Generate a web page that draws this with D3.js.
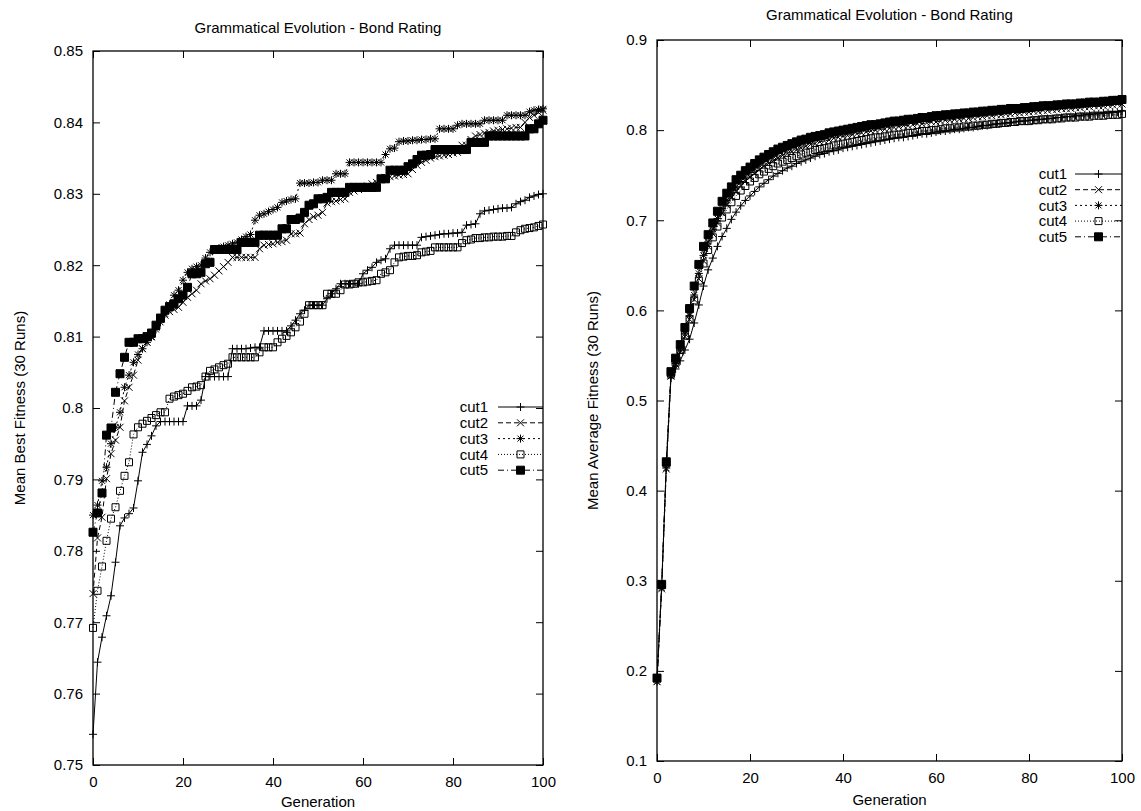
<!DOCTYPE html>
<html>
<head>
<meta charset="UTF-8">
<title>Grammatical Evolution - Bond Rating</title>
<script src="https://cdn.jsdelivr.net/npm/d3@7"></script>
<style>
    body { margin: 0; background: #fff; }
    text { font-family: "Liberation Sans", Arial, sans-serif; font-size: 15px; fill: #000; }
    .frame { fill: none; stroke: #000; stroke-width: 1.3; }
    .tick line { stroke: #000; stroke-width: 1; }
    .domain { display: none; }
    .series { fill: none; stroke: #000; stroke-width: 1; }
</style>
</head>
<body>
<script>

    var seriesNames = ["cut1", "cut2", "cut3", "cut4", "cut5"];
    var generations = d3.range(0, 101);
    var xTicks = [0, 20, 40, 60, 80, 100];
    var bestTicks = [0.75, 0.76, 0.77, 0.78, 0.79, 0.8, 0.81, 0.82, 0.83, 0.84, 0.85];
    var avgTicks = [0.1, 0.2, 0.3, 0.4, 0.5, 0.6, 0.7, 0.8, 0.9];

    // mean best fitness, one value per generation 0..100
    var bestCut1 = [.7543,.7644,.7679,.7709,.7737,.7784,.7835,.7846,.7852,.7860,
        .7898,.7938,.7949,.7961,.7975,.7981,.7981,.7981,.7981,.7981,
        .7981,.8003,.8003,.8003,.8011,.8044,.8044,.8044,.8044,.8044,
        .8044,.8083,.8083,.8083,.8083,.8084,.8085,.8085,.8108,.8108,
        .8108,.8108,.8108,.8108,.8115,.8123,.8132,.8137,.8144,.8144,
        .8144,.8144,.8153,.8160,.8167,.8174,.8174,.8174,.8174,.8174,
        .8188,.8193,.8197,.8204,.8207,.8209,.8223,.8228,.8228,.8228,
        .8228,.8228,.8228,.8239,.8240,.8241,.8242,.8243,.8244,.8244,
        .8245,.8245,.8246,.8256,.8257,.8258,.8272,.8276,.8277,.8278,
        .8279,.8280,.8280,.8281,.8286,.8289,.8291,.8295,.8297,.8299,
        .8300];
    var bestCut2 = [.7740,.7818,.7847,.7901,.7936,.7955,.7973,.8010,.8029,.8046,
        .8067,.8083,.8092,.8100,.8113,.8125,.8130,.8135,.8138,.8141,
        .8148,.8155,.8160,.8165,.8174,.8178,.8181,.8186,.8192,.8198,
        .8204,.8211,.8211,.8211,.8211,.8211,.8211,.8223,.8228,.8229,
        .8230,.8232,.8233,.8235,.8244,.8244,.8245,.8258,.8264,.8268,
        .8270,.8274,.8287,.8289,.8290,.8292,.8293,.8302,.8304,.8306,
        .8308,.8311,.8314,.8316,.8320,.8323,.8324,.8325,.8326,.8327,
        .8328,.8334,.8340,.8344,.8347,.8350,.8352,.8353,.8354,.8355,
        .8357,.8358,.8368,.8368,.8376,.8381,.8383,.8385,.8386,.8388,
        .8389,.8390,.8391,.8392,.8393,.8393,.8400,.8407,.8410,.8414,
        .8417];
    var bestCut3 = [.7850,.7864,.7898,.7917,.7950,.7973,.7994,.8029,.8046,.8064,
        .8075,.8083,.8092,.8099,.8110,.8120,.8132,.8145,.8158,.8165,
        .8179,.8190,.8195,.8198,.8200,.8210,.8218,.8222,.8224,.8226,
        .8228,.8230,.8232,.8236,.8240,.8243,.8263,.8270,.8272,.8275,
        .8278,.8281,.8288,.8290,.8292,.8293,.8315,.8315,.8315,.8316,
        .8316,.8319,.8319,.8319,.8328,.8328,.8328,.8344,.8344,.8344,
        .8344,.8344,.8344,.8344,.8344,.8355,.8363,.8364,.8373,.8374,
        .8374,.8375,.8375,.8376,.8376,.8377,.8377,.8391,.8391,.8391,
        .8391,.8396,.8398,.8398,.8398,.8398,.8398,.8403,.8403,.8403,
        .8403,.8403,.8410,.8410,.8410,.8410,.8410,.8415,.8417,.8418,
        .8419];
    var bestCut4 = [.7692,.7744,.7778,.7814,.7845,.7861,.7884,.7905,.7924,.7963,
        .7973,.7978,.7982,.7986,.7990,.7994,.7994,.8013,.8016,.8018,
        .8020,.8024,.8029,.8030,.8032,.8044,.8052,.8054,.8057,.8060,
        .8062,.8071,.8071,.8071,.8071,.8071,.8071,.8078,.8085,.8085,
        .8085,.8092,.8097,.8101,.8106,.8113,.8121,.8132,.8144,.8144,
        .8144,.8144,.8160,.8160,.8160,.8165,.8173,.8173,.8174,.8176,
        .8176,.8177,.8178,.8179,.8188,.8190,.8193,.8204,.8211,.8212,
        .8213,.8213,.8214,.8218,.8219,.8220,.8225,.8225,.8225,.8225,
        .8225,.8225,.8231,.8235,.8236,.8238,.8238,.8239,.8239,.8240,
        .8240,.8240,.8241,.8241,.8246,.8249,.8251,.8252,.8253,.8255,
        .8257];
    var bestCut5 = [.7826,.7853,.7881,.7962,.7972,.8022,.8048,.8071,.8092,.8092,
        .8097,.8097,.8100,.8105,.8116,.8126,.8137,.8142,.8146,.8153,
        .8158,.8169,.8188,.8188,.8190,.8202,.8204,.8222,.8222,.8222,
        .8222,.8222,.8222,.8232,.8232,.8232,.8232,.8242,.8242,.8242,
        .8242,.8242,.8251,.8251,.8264,.8264,.8266,.8274,.8284,.8286,
        .8293,.8293,.8295,.8302,.8302,.8302,.8302,.8309,.8309,.8309,
        .8309,.8309,.8309,.8309,.8321,.8321,.8333,.8333,.8333,.8333,
        .8338,.8342,.8348,.8354,.8354,.8355,.8362,.8362,.8362,.8362,
        .8362,.8362,.8362,.8362,.8372,.8372,.8372,.8372,.8381,.8381,
        .8381,.8381,.8381,.8381,.8381,.8381,.8381,.8391,.8391,.8398,
        .8403];

    // mean average fitness, one value per generation 0..100
    var avgCut1 = [.190,.293,.428,.525,.535,.544,.556,.568,.586,.606,
        .627,.645,.658,.671,.682,.691,.701,.709,.716,.722,
        .727,.732,.737,.741,.745,.749,.752,.755,.758,.760,
        .763,.765,.767,.769,.771,.773,.774,.776,.777,.778,
        .780,.781,.782,.783,.784,.785,.786,.787,.788,.789,
        .790,.791,.792,.792,.793,.794,.795,.796,.796,.797,
        .798,.799,.799,.800,.801,.801,.802,.803,.803,.804,
        .805,.805,.806,.807,.807,.808,.808,.809,.810,.810,
        .811,.811,.812,.812,.813,.813,.814,.814,.815,.815,
        .816,.816,.817,.817,.818,.818,.819,.819,.820,.820,
        .821];
    var avgCut2 = [.188,.291,.424,.527,.540,.554,.571,.590,.612,.635,
        .655,.671,.685,.697,.708,.717,.725,.732,.738,.743,
        .748,.752,.756,.760,.763,.766,.769,.772,.774,.776,
        .778,.780,.782,.784,.785,.787,.788,.789,.791,.792,
        .793,.794,.795,.796,.797,.798,.799,.800,.801,.801,
        .802,.803,.804,.805,.805,.806,.807,.807,.808,.809,
        .809,.810,.811,.811,.812,.812,.813,.813,.814,.815,
        .815,.816,.816,.817,.817,.818,.818,.819,.819,.820,
        .820,.821,.821,.822,.822,.823,.823,.824,.824,.824,
        .825,.825,.826,.826,.827,.827,.827,.828,.828,.829,
        .829];
    var avgCut3 = [.188,.292,.425,.527,.541,.556,.574,.594,.617,.641,
        .661,.676,.690,.702,.713,.722,.730,.737,.743,.748,
        .753,.757,.761,.765,.768,.771,.774,.777,.779,.781,
        .783,.785,.787,.788,.790,.791,.793,.794,.795,.796,
        .797,.798,.799,.800,.801,.802,.803,.804,.805,.806,
        .807,.808,.808,.809,.810,.811,.811,.812,.813,.813,
        .814,.815,.815,.816,.816,.817,.818,.818,.819,.819,
        .820,.820,.821,.821,.822,.822,.823,.823,.824,.824,
        .825,.825,.826,.826,.827,.827,.827,.828,.828,.829,
        .829,.830,.830,.830,.831,.831,.832,.832,.832,.833,
        .833];
    var avgCut4 = [.192,.295,.430,.530,.542,.556,.572,.590,.611,.633,
        .652,.667,.681,.693,.703,.712,.720,.727,.733,.738,
        .743,.747,.751,.754,.757,.760,.763,.765,.767,.769,
        .771,.773,.775,.776,.778,.779,.780,.781,.783,.784,
        .785,.786,.787,.788,.789,.790,.791,.792,.792,.793,
        .794,.795,.795,.796,.797,.797,.798,.799,.799,.800,
        .800,.801,.802,.802,.803,.803,.804,.804,.805,.805,
        .806,.806,.807,.807,.808,.808,.809,.809,.810,.810,
        .810,.811,.811,.812,.812,.812,.813,.813,.814,.814,
        .814,.815,.815,.815,.816,.816,.816,.817,.817,.817,
        .818];
    var avgCut5 = [.192,.296,.432,.532,.547,.562,.581,.602,.627,.651,
        .671,.684,.697,.710,.721,.730,.737,.745,.750,.755,
        .759,.763,.767,.770,.773,.776,.779,.781,.783,.785,
        .787,.789,.790,.792,.793,.794,.795,.797,.798,.799,
        .800,.801,.802,.803,.804,.805,.806,.806,.807,.808,
        .809,.810,.810,.811,.812,.812,.813,.814,.814,.815,
        .816,.816,.817,.817,.818,.818,.819,.819,.820,.820,
        .821,.821,.822,.822,.823,.823,.824,.824,.824,.825,
        .825,.826,.826,.827,.827,.827,.828,.828,.829,.829,
        .829,.830,.830,.831,.831,.831,.832,.832,.833,.833,
        .834];

    var width = 1141,
        height = 811;

    // gnuplot style: line dash and point type per series
    var dashes = [null, "5,3", "2,3", "1,2", "6,3,1,3"];
    var markers = [
        {d: "M-4,0H4M0,-4V4", fill: false},
        {d: "M-3.5,-3.5L3.5,3.5M-3.5,3.5L3.5,-3.5", fill: false},
        {d: "M-4,0H4M0,-4V4M-3,-3L3,3M-3,3L3,-3", fill: false},
        {d: "M-3.5,-3.5H3.5V3.5H-3.5Z", fill: false},
        {d: "M-4,-4H4V4H-4Z", fill: true}
    ];

    var panels = [
        {
            left: 93, right: 543, top: 51, bottom: 765,
            yDomain: [0.75, 0.85], yTicks: bestTicks,
            series: [bestCut1, bestCut2, bestCut3, bestCut4, bestCut5],
            title: "Grammatical Evolution - Bond Rating", titleY: 33,
            yLabel: "Mean Best Fitness (30 Runs)", yLabelX: 25,
            xLabelY: 807,
            key: {textX: 488, x0: 498, x1: 543, y0: 407, dy: 15.8}
        },
        {
            left: 657, right: 1122, top: 40, bottom: 761,
            yDomain: [0.1, 0.9], yTicks: avgTicks,
            series: [avgCut1, avgCut2, avgCut3, avgCut4, avgCut5],
            title: "Grammatical Evolution - Bond Rating", titleY: 20,
            yLabel: "Mean Average Fitness (30 Runs)", yLabelX: 598,
            xLabelY: 805,
            key: {textX: 1067, x0: 1075, x1: 1122, y0: 174, dy: 15.7}
        }
    ];

    var svg = d3.select("body").append("svg")
        .attr("width", width)
        .attr("height", height)
        .style("background", "#fff");

    panels.forEach(function(p) { drawPanel(p); });

    function drawMarker(sel, i) {
        sel.append("path")
            .attr("d", markers[i].d)
            .attr("fill", markers[i].fill ? "#000" : "none")
            .attr("stroke", "#000")
            .attr("stroke-width", 1);
    }

    function drawPanel(p) {
        var g = svg.append("g");

        var x = d3.scaleLinear().domain([0, 100]).range([p.left, p.right]);
        var y = d3.scaleLinear().domain(p.yDomain).range([p.bottom, p.top]);
        var fmt = d3.format("~g");

        // axes with inward ticks, mirrored on top and right
        g.append("g")
            .attr("transform", "translate(0," + p.bottom + ")")
            .call(d3.axisBottom(x).tickValues(xTicks).tickSize(-7).tickPadding(11).tickFormat(d3.format("d")));
        g.append("g")
            .attr("transform", "translate(0," + p.top + ")")
            .call(d3.axisTop(x).tickValues(xTicks).tickSize(-7).tickFormat(""));
        g.append("g")
            .attr("transform", "translate(" + p.left + ",0)")
            .call(d3.axisLeft(y).tickValues(p.yTicks).tickSize(-7).tickPadding(10).tickFormat(fmt));
        g.append("g")
            .attr("transform", "translate(" + p.right + ",0)")
            .call(d3.axisRight(y).tickValues(p.yTicks).tickSize(-7).tickFormat(""));

        g.selectAll(".tick text")
            .style("font-family", "'Liberation Sans', Arial, sans-serif")
            .style("font-size", "15px");

        g.append("rect")
            .attr("class", "frame")
            .attr("x", p.left)
            .attr("y", p.top)
            .attr("width", p.right - p.left)
            .attr("height", p.bottom - p.top);

        // series lines and points
        var line = d3.line()
            .x(function(d, i) { return x(generations[i]); })
            .y(function(d) { return y(d); });

        p.series.forEach(function(values, si) {
            g.append("path")
                .datum(values)
                .attr("class", "series")
                .attr("stroke-dasharray", dashes[si])
                .attr("d", line);

            g.append("g").selectAll("g")
                .data(values)
                .enter().append("g")
                .attr("transform", function(d, i) { return "translate(" + x(generations[i]) + "," + y(d) + ")"; })
                .each(function() { drawMarker(d3.select(this), si); });
        });

        // key
        seriesNames.forEach(function(name, si) {
            var ky = p.key.y0 + si * p.key.dy;
            g.append("text")
                .attr("x", p.key.textX)
                .attr("y", ky)
                .attr("dy", "0.35em")
                .attr("text-anchor", "end")
                .text(name);
            g.append("line")
                .attr("class", "series")
                .attr("x1", p.key.x0)
                .attr("x2", p.key.x1)
                .attr("y1", ky)
                .attr("y2", ky)
                .attr("stroke-dasharray", dashes[si]);
            var m = g.append("g")
                .attr("transform", "translate(" + ((p.key.x0 + p.key.x1) / 2) + "," + ky + ")");
            drawMarker(m, si);
        });

        // titles
        g.append("text")
            .attr("x", (p.left + p.right) / 2)
            .attr("y", p.titleY)
            .attr("text-anchor", "middle")
            .text(p.title);

        g.append("text")
            .attr("x", (p.left + p.right) / 2)
            .attr("y", p.xLabelY)
            .attr("text-anchor", "middle")
            .text("Generation");

        g.append("text")
            .attr("transform", "translate(" + p.yLabelX + "," + ((p.top + p.bottom) / 2) + ") rotate(-90)")
            .attr("text-anchor", "middle")
            .text(p.yLabel);
    }
</script>
</body>
</html>
